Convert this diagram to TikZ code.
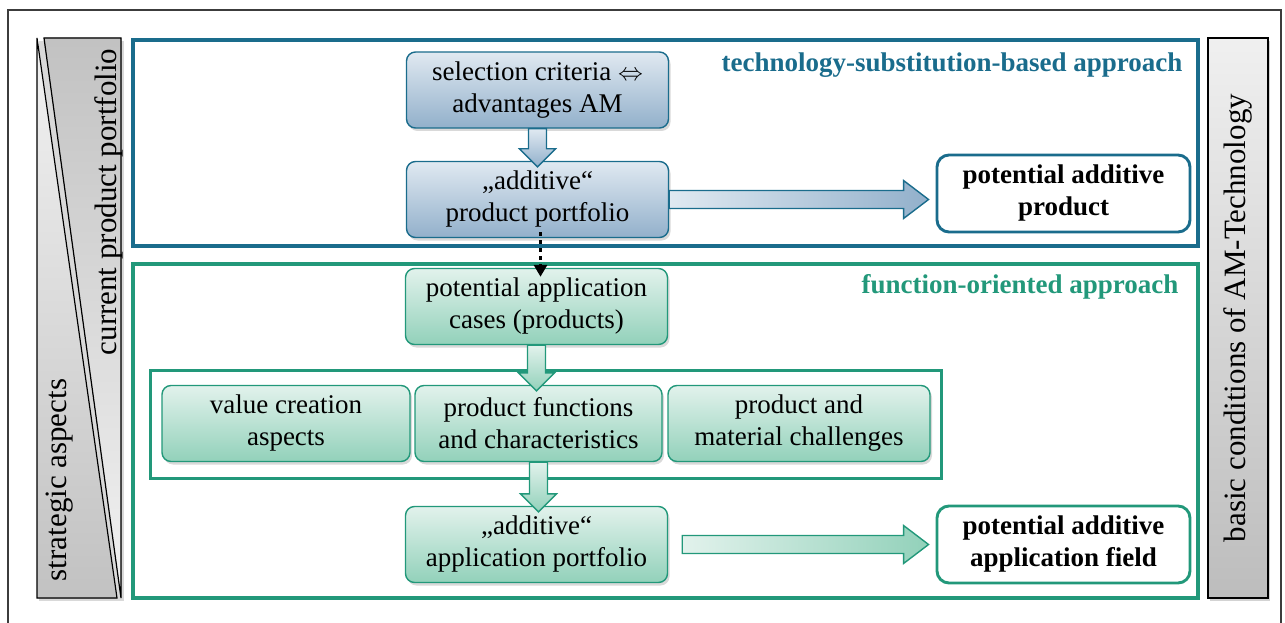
\documentclass[tikz,border=0pt]{standalone}
\usepackage{fontspec}
\setmainfont{Liberation Serif}
\usepackage{tikz}
\usetikzlibrary{arrows.meta,positioning,calc,shadows}
\definecolor{techblue}{RGB}{26,108,140}
\definecolor{techlight}{RGB}{224,233,241}
\definecolor{techdark}{RGB}{146,176,203}
\definecolor{functeal}{RGB}{34,152,122}
\definecolor{funclight}{RGB}{226,242,236}
\definecolor{funcdark}{RGB}{146,209,186}
\definecolor{frameline}{RGB}{60,60,60}

\tikzset{
  stepnode/.style={rounded corners=9pt,minimum width=262pt,minimum height=76pt,inner sep=2pt,
    align=center,line width=1.4pt,drop shadow={opacity=0.3,shadow xshift=2pt,shadow yshift=-3pt}},
  technode/.style={stepnode,draw=techblue,top color=techlight,bottom color=techdark},
  funcnode/.style={stepnode,draw=functeal,top color=funclight,bottom color=funcdark},
  resultnode/.style={rounded corners=12pt,minimum width=253pt,minimum height=77pt,inner sep=2pt,
    align=center,line width=2.9pt,fill=white,font=\fontsize{27}{32}\selectfont\bfseries},
  sidetext/.style={rotate=90,font=\fontsize{31}{36}\selectfont},
  boxtitle/.style={anchor=east,font=\fontsize{27}{32}\selectfont\bfseries},
  approachbox/.style={line width=3.2pt},
}
% block arrows between two named nodes
\newcommand{\downblock}[5]{%
  \path let \p1=(#1.south),\p2=(#2.north) in
    [draw=#3,line width=1.4pt,top color=#4,bottom color=#5]
    (\x1-9pt,\y1) -- (\x1+9pt,\y1) -- (\x1+9pt,\y2+12pt) -- (\x1+18pt,\y2+12pt)
    -- (\x1,\y2-6pt) -- (\x1-18pt,\y2+12pt) -- (\x1-9pt,\y2+12pt) -- cycle;}
\newcommand{\rightblock}[6]{%
  \path let \p1=(#1.east),\p2=(#2.west) in
    [draw=#4,line width=1.4pt,left color=#5,right color=#6]
    (\x1+#3,\y1+9pt) -- (\x2-32pt,\y1+9pt) -- (\x2-32pt,\y1+19pt) -- (\x2-7pt,\y1)
    -- (\x2-32pt,\y1-19pt) -- (\x2-32pt,\y1-9pt) -- (\x1+#3,\y1-9pt) -- cycle;}

\begin{document}
\begin{tikzpicture}[x=1pt,y=-1pt,font=\fontsize{27}{32}\selectfont]
\useasboundingbox (0,0) rectangle (1285,623);
\draw[frameline,line width=1.4pt] (8,10) rectangle (1281,650);
% left bar
\fill[black,opacity=0.15] (39,41) rectangle (124,601);
\fill[top color=gray!10,bottom color=gray!48] (37,38) -- (117,598) -- (37,598) -- cycle;
\fill[top color=gray!48,bottom color=gray!10] (44,38) -- (121,38) -- (121,598) -- cycle;
\draw[line width=1.2pt] (37,38) -- (117,598) -- (37,598) -- cycle;
\draw[line width=1.2pt] (44,38) -- (121,38) -- (121,598) -- cycle;
\node[sidetext] (curport) at (109,202) {current product portfolio};
\node[sidetext] (strat) at (60,480) {strategic aspects};
% right bar
\node[draw,line width=1.2pt,top color=gray!12,bottom color=gray!52,minimum width=60pt,minimum height=560pt,
  drop shadow={opacity=0.35,shadow xshift=2pt,shadow yshift=-3pt}] (basic) at (1238,318) {};
\node[sidetext] (basictext) at (basic.center) {basic conditions of AM-Technology};
% technology-substitution-based approach
\draw[approachbox,techblue] (133,40) rectangle (1198,246);
\node[boxtitle,text=techblue] (techtitle) at (1186,65) {technology-substitution-based approach};
\node[technode] (select) at (537.5,90) {selection criteria $\Leftrightarrow$\\advantages AM};
\node[technode] (addport) at (537.5,199.5) {„additive“\\product portfolio};
\node[resultnode,draw=techblue] (potprod) at (1063.5,193.5) {potential additive\\product};
\downblock{select}{addport}{techblue}{techlight}{techdark}
\rightblock{addport}{potprod}{0pt}{techblue}{techlight}{techdark}
% function-oriented approach
\draw[approachbox,functeal] (133,264) rectangle (1198,598);
\node[boxtitle,text=functeal] (functitle) at (1182,287) {function-oriented approach};
\node[funcnode] (cases) at (536.5,306.5) {potential application\\cases (products)};
\draw[approachbox,functeal,line width=3pt] (150,370) rectangle (941,478);
\node[funcnode,minimum width=248pt] (value) at (286,423.5) {value creation\\aspects};
\node[funcnode,minimum width=247pt] (functions) at (538.5,423.5) {product functions\\and characteristics};
\node[funcnode,minimum width=262pt] (challenge) at (799,423.5) {product and\\material challenges};
\node[funcnode] (appport) at (536.5,544.5) {„additive“\\application portfolio};
\node[resultnode,draw=functeal] (potfield) at (1063.5,544.5) {potential additive\\application field};
\downblock{cases}{functions}{functeal}{funclight}{funcdark}
\downblock{functions}{appport}{functeal}{funclight}{funcdark}
\rightblock{appport}{potfield}{14pt}{functeal}{funclight}{funcdark}
% link between the approaches
\draw[line width=3.5pt,dash pattern=on 4pt off 4pt,-{Triangle[width=13pt,length=12pt]},
  shorten <=-6pt,shorten >=-9pt] ($(addport.south)+(3,0)$) -- ($(cases.north)+(4,0)$);
\end{tikzpicture}
\end{document}
